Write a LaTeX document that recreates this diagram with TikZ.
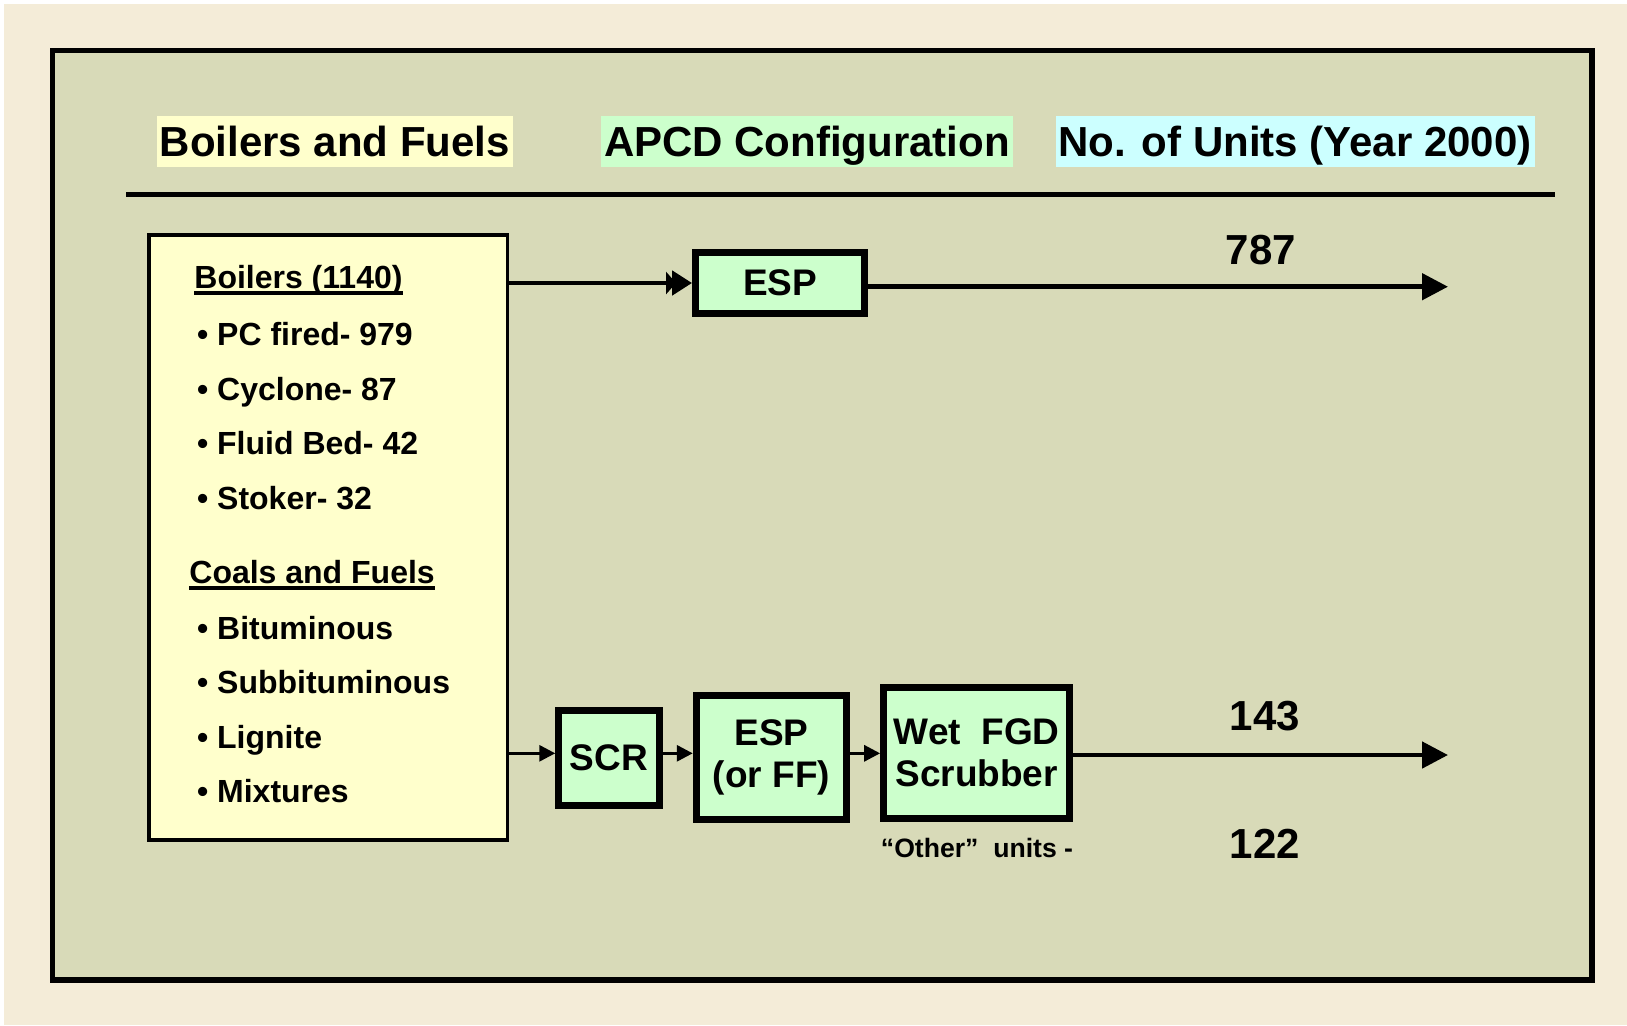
\documentclass[tikz,border=0pt]{standalone}
\usepackage{fontspec}
\setmainfont{Liberation Sans}
\usetikzlibrary{positioning,arrows.meta}

\definecolor{paper}{RGB}{244,236,216}
\definecolor{panel}{RGB}{216,218,184}
\definecolor{boilyellow}{RGB}{255,255,204}
\definecolor{unitgreen}{RGB}{204,255,204}
\definecolor{unitcyan}{RGB}{204,255,255}
\newcommand\ulbox[1]{\setbox0\hbox{#1}\rlap{\rule[-3.4pt]{\wd0}{1.75pt}}\box0}

\begin{document}
\begin{tikzpicture}[x=0.5pt,y=-0.5pt,node distance=15pt,>=Stealth,
hdr/.style={fill=#1,font=\fontsize{21}{25}\selectfont\bfseries,inner xsep=1.5pt,inner ysep=0pt,text height=20.5pt,text depth=5pt},
item/.style={anchor=base west,inner sep=0pt,font=\fontsize{16}{19}\selectfont\bfseries},
unit/.style={draw,line width=3.5pt,fill=unitgreen,align=center,inner sep=0pt,font=\fontsize{18.5}{21}\selectfont\bfseries},
count/.style={anchor=base,inner sep=0pt,font=\fontsize{21}{25}\selectfont\bfseries},
bigarr/.style={line width=2.4pt,-{Triangle[length=13pt,width=13pt]}},
smallarr/.style={line width=1.5pt,-{Triangle[length=8pt,width=8pt]}}]
\useasboundingbox (0,0) rectangle (1627,1025);
\fill[white] (0,0) rectangle (1627,1025);
\fill[paper] (4,4) rectangle (1627,1025);
\draw[line width=2.75pt,fill=panel] (52.5,50.5) rectangle (1592,980);

% column heads
\node[hdr=boilyellow] (hdboil) at (335,141) {Boilers and Fuels};
\node[hdr=unitgreen] (hdapcd) at (807,141) {APCD Configuration};
\node[hdr=unitcyan] (hdunits) at (1295,141) {No. of Units (Year 2000)};
\coordinate (ruleL) at (126,194.5); \coordinate (ruleR) at (1555,194.5);
\draw[line width=2.2pt] (ruleL) -- (ruleR);

% boilers and fuels
\node[draw,line width=1.75pt,fill=boilyellow,minimum width=179.25pt,minimum height=302.5pt] (boilbox) at (328.25,537.5) {};
\node[item] (boilhd) at (194,288) {\ulbox{Boilers (1140)}};
\node[item] (pc) at (196.7,345.5) {• PC fired- 979};
\node[item] (cyclone) at (196.7,400) {• Cyclone- 87};
\node[item] (fluid) at (196.7,454.5) {• Fluid Bed- 42};
\node[item] (stoker) at (196.7,509) {• Stoker- 32};
\node[item] (coalhd) at (189,583) {\ulbox{Coals and Fuels}};
\node[item] (bitum) at (196.7,639.3) {• Bituminous};
\node[item] (subbit) at (196.7,693.5) {• Subbituminous};
\node[item] (lignite) at (196.7,748) {• Lignite};
\node[item] (mixt) at (196.7,802.5) {• Mixtures};

% ESP only
\node[unit,minimum width=84.65pt,minimum height=30.2pt] (esptop) at (780.2,283) {ESP};
\coordinate (toptip) at (1448,286.7);
\draw[line width=2.4pt,-{Triangle[length=5pt,width=11pt,sep=-2pt]Triangle[length=10pt,width=12pt]}] (boilbox.east |- esptop.west) -- (esptop.west);
\draw[bigarr] (esptop.east |- toptip) -- (toptip);
\node[count] (n787) at (1261,264) {787};

% SCR + ESP + wet FGD
\node[unit,minimum width=50.25pt,minimum height=47.5pt] (scr) at (609,757.5) {SCR};
\node[unit,minimum width=75.2pt,minimum height=62.3pt,right=of scr] (esplow) {ESP\\(or FF)};
\node[unit,minimum width=93pt,minimum height=65.5pt,right=of esplow,yshift=2.4pt] (wet) {Wet\ \ FGD\\Scrubber};
\coordinate (lowrow) at (0,753.3);
\coordinate (lowtip) at (1448,755);
\draw[smallarr] (boilbox.east |- lowrow) -- (scr.west |- lowrow);
\draw[smallarr] (scr.east |- lowrow) -- (esplow.west |- lowrow);
\draw[smallarr] (esplow.east |- lowrow) -- (wet.west |- lowrow);
\draw[bigarr] (wet.east |- lowtip) -- (lowtip);
\node[count] (n143) at (1265,730) {143};
\node[count] (n122) at (1265,858.3) {122};
\node[font=\fontsize{13.3}{16}\selectfont\bfseries] (other) at (977,848) {“Other”\ \ units -};
\end{tikzpicture}
\end{document}
